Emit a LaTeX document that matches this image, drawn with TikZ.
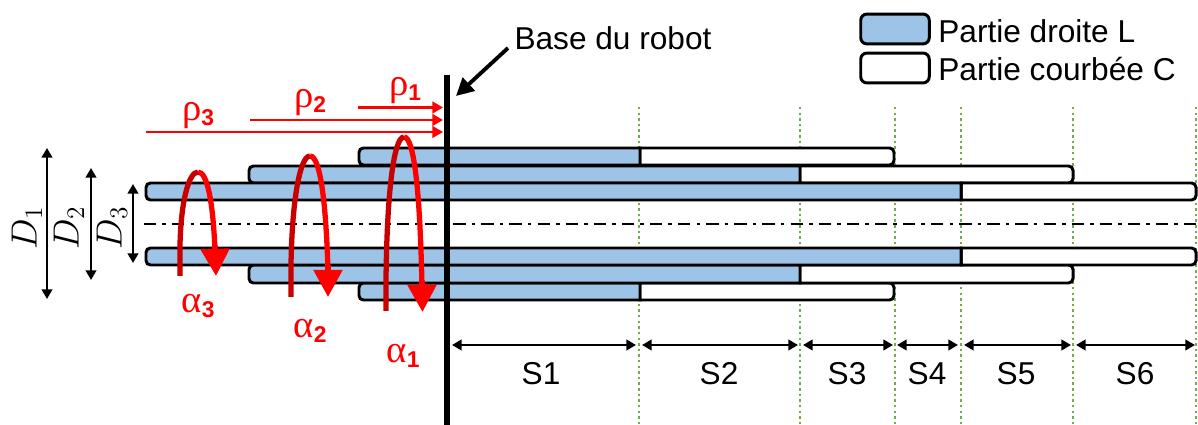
\documentclass[tikz,border=0pt]{standalone}
\usepackage{fontspec}
\usepackage{amsmath}
\usetikzlibrary{arrows.meta}
\setmainfont{Liberation Sans}
\newfontfamily\greekfont{Liberation Serif}
\definecolor{bluepart}{RGB}{157,195,230}
\definecolor{greenline}{RGB}{112,173,71}
\definecolor{darkarc}{RGB}{200,0,0}
\newcommand{\redlabel}[2]{{\greekfont\fontsize{22}{22}\selectfont #1}{\raisebox{-0.5ex}{\fontsize{13}{13}\selectfont\bfseries #2}}}
% left end, joint, right end, top, bottom
\newcommand{\tube}[5]{
	\draw[curvedpart] (#2,#4) [rounded corners=2.5pt] -- (#3,#4) -- (#3,#5) [sharp corners] -- (#2,#5) -- cycle;
	\draw[straightpart] (#2,#4) [rounded corners=2.5pt] -- (#1,#4) -- (#1,#5) [sharp corners] -- (#2,#5) -- cycle;
}
\tikzset{
	straightpart/.style={draw=black, fill=bluepart, line width=1.7pt},
	curvedpart/.style={draw=black, fill=white, line width=1.7pt},
	sectionline/.style={greenline, line width=1.2pt, dash pattern=on 1.4pt off 1.8pt},
	spanarrow/.style={{Triangle[length=5.5pt,width=6pt]}-{Triangle[length=5.5pt,width=6pt]}, line width=1.35pt},
	rhoarrow/.style={-{Triangle[length=6pt,width=6.5pt]}, red, line width=1.6pt},
	alphaarrow/.style={-{Triangle[length=15.5pt,width=16pt]}, red, line width=3pt},
	txt/.style={font=\fontsize{18}{18}\selectfont, inner sep=0pt},
	redtxt/.style={red, inner sep=0pt},
}
\begin{document}
\begin{tikzpicture}[x=0.02cm, y=-0.02cm]
	\useasboundingbox (0,0) rectangle (1198,425);
	% sections
	\draw[sectionline] (639,107) -- (639,425);
	\draw[sectionline] (800,107) -- (800,425);
	\draw[sectionline] (895,107) -- (895,425);
	\draw[sectionline] (961,107) -- (961,425);
	\draw[sectionline] (1073,107) -- (1073,425);
	\draw[sectionline] (1196,107) -- (1196,425);
	% tubes
	\tube{359}{640}{894}{148}{165}
	\tube{249}{800}{1073}{166}{183}
	\tube{146}{961}{1196}{183}{200}
	\tube{359}{640}{894}{283}{300}
	\tube{249}{800}{1073}{265}{283}
	\tube{146}{961}{1196}{248}{265}
	% axis and base
	\draw[line width=1.3pt, dash pattern=on 7pt off 3.5pt on 2pt off 3.5pt] (144,224) -- (1198,224);
	\draw[line width=3.4pt] (447,75) -- (447,425);
	% legend
	\node[straightpart, rounded corners=3.5pt, minimum width=39pt, minimum height=17pt] (legL) at (895,29) {};
	\node[curvedpart, rounded corners=3.5pt, minimum width=39pt, minimum height=17pt] (legC) at (895,68) {};
	\node[txt, anchor=west] (txtL) at (938,31) {Partie droite L};
	\node[txt, anchor=west] (txtC) at (938,69) {Partie courbée C};
	% base label
	\node[txt] (base) at (613,38) {Base du robot};
	\coordinate (basetip) at (456,96);
	\coordinate (basefrom) at (508,48);
	\draw[-{Triangle[length=10pt,width=10pt]}, line width=2.2pt] (basefrom) -- (basetip);
	% translations
	\draw[rhoarrow] (358,107.5) -- (443,107.5);
	\draw[rhoarrow] (250,120) -- (443,120);
	\draw[rhoarrow] (146,132) -- (443,132);
	\node[redtxt] (rho1) at (405,91) {\redlabel{ρ}{1}};
	\node[redtxt] (rho2) at (310,103) {\redlabel{ρ}{2}};
	\node[redtxt] (rho3) at (198,116) {\redlabel{ρ}{3}};
	% rotations
	\draw[red, line width=3pt] (198,172) .. controls (207,172) and (213,200) .. (215,251);
	\draw[alphaarrow] (215,245) -- (216,276);
	\draw[darkarc, line width=3pt] (180,276) -- (180,245) .. controls (181,200) and (189,172) .. (198,172);
	\draw[red, line width=3pt] (310,156) .. controls (320,156) and (326,200) .. (328,272);
	\draw[alphaarrow] (328,265) -- (328,297);
	\draw[darkarc, line width=3pt] (291,297) -- (291,265) .. controls (292,200) and (300,156) .. (310,156);
	\draw[red, line width=3pt] (404,137) .. controls (414,137) and (420,190) .. (422,287);
	\draw[alphaarrow] (422,280) -- (422.5,312);
	\draw[darkarc, line width=3pt] (386,311) -- (386,280) .. controls (387,190) and (394,137) .. (404,137);
	\node[redtxt] (alpha3) at (198,306) {\redlabel{α}{3}};
	\node[redtxt] (alpha2) at (310,331) {\redlabel{α}{2}};
	\node[redtxt] (alpha1) at (403,356) {\redlabel{α}{1}};
	% diameters
	\draw[spanarrow] (47,148) -- (47,299);
	\draw[spanarrow] (91,168) -- (91,280);
	\draw[spanarrow] (133,184) -- (133,263);
	\node[rotate=90, inner sep=0pt, font=\fontsize{20}{20}\selectfont] (D1) at (27,228) {$D_1$};
	\node[rotate=90, inner sep=0pt, font=\fontsize{20}{20}\selectfont] (D2) at (69,228) {$D_2$};
	\node[rotate=90, inner sep=0pt, font=\fontsize{20}{20}\selectfont] (D3) at (112,228) {$D_3$};
	% lengths
	\draw[spanarrow] (452,345) -- (636,345);
	\draw[spanarrow] (642,345) -- (798,345);
	\draw[spanarrow] (803,345) -- (893,345);
	\draw[spanarrow] (897,345) -- (958,345);
	\draw[spanarrow] (964,345) -- (1071,345);
	\draw[spanarrow] (1076,345) -- (1195,345);
	\node[txt] (S1) at (541,374) {S1};
	\node[txt] (S2) at (719,374) {S2};
	\node[txt] (S3) at (847,374) {S3};
	\node[txt] (S4) at (927,374) {S4};
	\node[txt] (S5) at (1016,374) {S5};
	\node[txt] (S6) at (1135,374) {S6};
\end{tikzpicture}
\end{document}
